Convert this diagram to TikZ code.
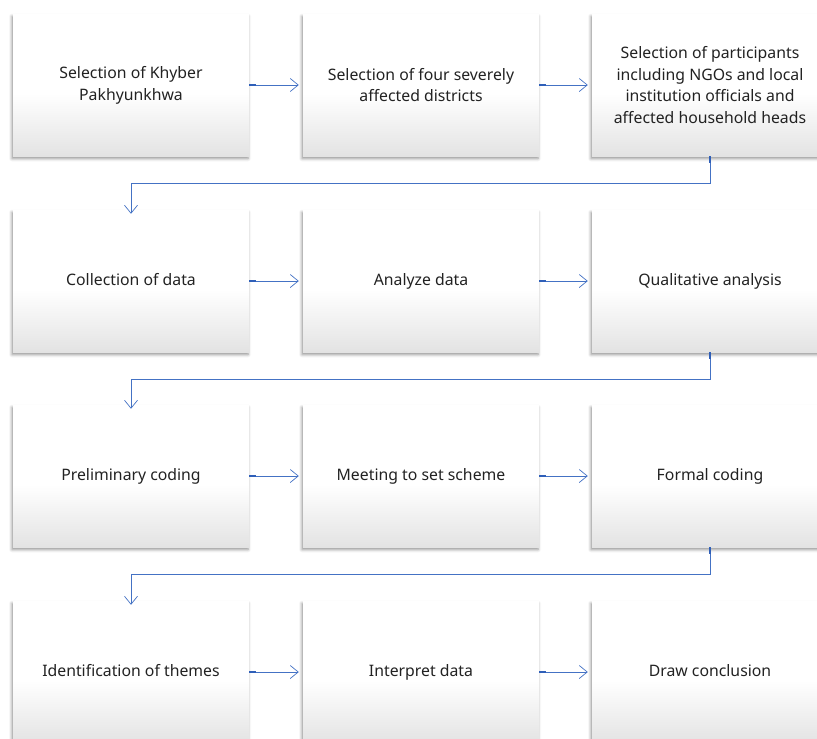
\documentclass[tikz,border=0pt]{standalone}
\usepackage{fontspec}
\setmainfont{Noto Sans}
\usetikzlibrary{arrows.meta,shadows.blur,positioning}
\definecolor{conn}{HTML}{4472C4}
\definecolor{stubc}{HTML}{2F5FB8}
\definecolor{boxbot}{HTML}{E3E3E3}
\definecolor{txt}{HTML}{222222}
\pgfdeclareverticalshading{boxshade}{100bp}{color(0bp)=(boxbot); color(25bp)=(boxbot); color(47bp)=(white); color(100bp)=(white)}
\tikzset{
  stepbox/.style={rectangle, minimum width=236pt, minimum height=142pt, inner sep=0pt,
    shading=boxshade, draw=none,
    blur shadow={shadow xshift=-1pt, shadow yshift=-2.5pt, shadow blur radius=3pt, shadow opacity=45},
    align=center, text=txt, font=\fontsize{15.8pt}{21.8pt}\selectfont},
  conn/.style={draw=conn, line width=0.7pt, -{Straight Barb[length=8pt,width=13pt,line width=0.7pt]}},
  stub/.style={draw=stubc, line width=2pt}
}
\begin{document}
\begin{tikzpicture}[x=1pt,y=-1pt]
\useasboundingbox (0,0) rectangle (817,739);
% boxes (centers)
\node[stepbox] (b11) at (131,85) {Selection of Khyber\\Pakhyunkhwa};
\node[stepbox] (b12) at (421,85) {Selection of four severely\\affected districts};
\node[stepbox] (b13) at (710,85) {Selection of participants\\including NGOs and local\\institution officials and\\affected household heads};
\node[stepbox] (b21) at (131,281) {\strut Collection of data};
\node[stepbox] (b22) at (421,281) {\strut Analyze data};
\node[stepbox] (b23) at (710,281) {\strut Qualitative analysis};
\node[stepbox] (b31) at (131,476) {\strut Preliminary coding};
\node[stepbox] (b32) at (421,476) {\strut Meeting to set scheme};
\node[stepbox] (b33) at (710,476) {\strut Formal coding};
\node[stepbox] (b41) at (131,672) {\strut Identification of themes};
\node[stepbox] (b42) at (421,672) {\strut Interpret data};
\node[stepbox] (b43) at (710,672) {\strut Draw conclusion};
% horizontal connectors
\foreach \r in {1,2,3,4}{
  \draw[conn] (b\r1.east) -- ([xshift=-4pt]b\r2.west);
  \draw[stub] (b\r1.east) -- ++(7,0);
  \draw[conn] (b\r2.east) -- ([xshift=-4pt]b\r3.west);
  \draw[stub] (b\r2.east) -- ++(7,0);
}
% elbow connectors
\foreach \r/\n in {1/2,2/3,3/4}{
  \draw[conn] (b\r3.south) -- ++(0,27) -| ([yshift=-4pt]b\n1.north);
  \draw[stub] (b\r3.south) -- ++(0,7);
}
\end{tikzpicture}
\end{document}
